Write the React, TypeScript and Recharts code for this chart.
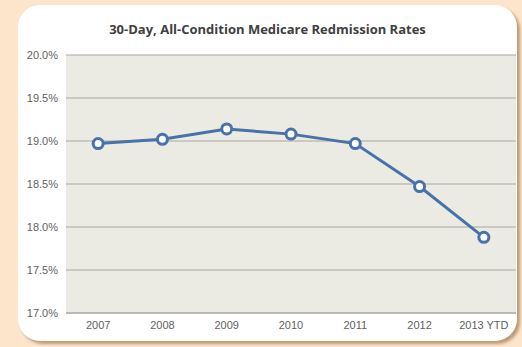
import React from 'react';
import { LineChart, Line, XAxis, YAxis, CartesianGrid } from 'recharts';

const categories = ['2007', '2008', '2009', '2010', '2011', '2012', '2013 YTD'];
const rates = [18.97, 19.02, 19.14, 19.08, 18.97, 18.47, 17.88];
const yTicks = [17.0, 17.5, 18.0, 18.5, 19.0, 19.5, 20.0];
const boundaryTicks = [0, 1, 2, 3, 4, 5, 6, 7];
const title = '30-Day, All-Condition Medicare Redmission Rates';

const data = categories.map((c, i) => ({ year: c, rate: rates[i] }));

export default function App() {
  return (
    <div style={{ position: 'fixed', left: 0, top: 0, width: 522, height: 347, background: '#fce5cb', overflow: 'hidden' }}>
      <div
        style={{
          position: 'absolute',
          left: 18,
          top: 5,
          width: 499,
          height: 336,
          background: '#ffffff',
          borderRadius: 22,
          boxShadow: '3px 3px 3px rgba(140,95,50,0.55)',
        }}
      >
        <div
          style={{
            position: 'absolute',
            left: 0,
            top: 15,
            width: 499,
            textAlign: 'center',
            fontFamily: '"Open Sans", sans-serif',
            fontWeight: 700,
            fontSize: 13,
            color: '#404040',
          }}
        >
          {title}
        </div>
        <LineChart width={499} height={336} data={data} margin={{ top: 50, right: 1, bottom: 0, left: 0 }}>
          <CartesianGrid vertical={false} stroke="#a8a79f" fill="#ecebe3" />
          <XAxis
            xAxisId="bounds"
            type="number"
            domain={[0, 7]}
            ticks={boundaryTicks}
            allowDataOverflow
            height={0}
            tickSize={4}
            tickFormatter={() => ''}
            axisLine={false}
            tickLine={{ stroke: '#a8a79f' }}
          />
          <XAxis
            xAxisId="cat"
            dataKey="year"
            scale="band"
            height={28}
            tickSize={0}
            tickMargin={8}
            axisLine={{ stroke: '#a8a79f' }}
            tickLine={false}
            tick={{ fill: '#5f5f5f', fontSize: 11, fontFamily: '"Liberation Sans", sans-serif' }}
          />
          <YAxis
            domain={[17, 20]}
            ticks={yTicks}
            width={48}
            tickSize={0}
            tickMargin={8}
            axisLine={false}
            tickLine={false}
            tickFormatter={(v: number) => v.toFixed(1) + '%'}
            tick={{ fill: '#5f5f5f', fontSize: 11, fontFamily: '"Liberation Sans", sans-serif' }}
          />
          <Line
            xAxisId="cat"
            dataKey="rate"
            stroke="#4872a9"
            strokeWidth={3}
            dot={{ r: 5, fill: '#ffffff', stroke: '#4872a9', strokeWidth: 3 }}
            isAnimationActive={false}
          />
        </LineChart>
      </div>
    </div>
  );
}
